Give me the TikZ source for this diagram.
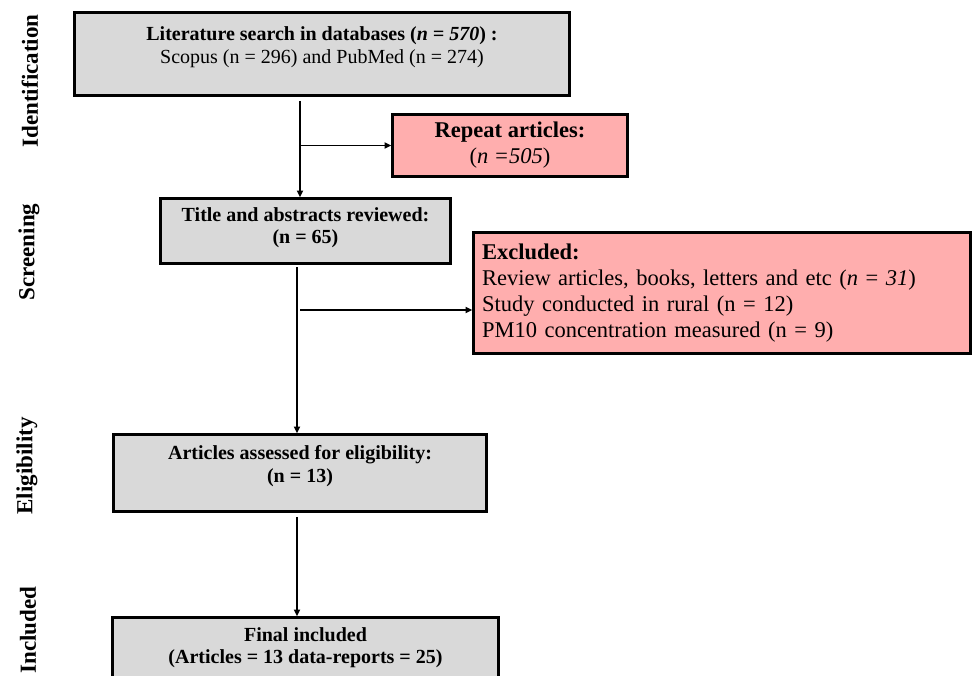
\documentclass[tikz,border=0pt]{standalone}
\usepackage{fontspec}
\setmainfont{Liberation Serif}
\usetikzlibrary{arrows.meta}

\definecolor{boxgray}{RGB}{217,217,217}
\definecolor{boxpink}{RGB}{255,174,174}

\begin{document}
\begin{tikzpicture}[x=1pt, y=-1pt,
    stage/.style={draw, line width=2.6pt, fill=boxgray, align=center, inner sep=0pt,
                  font=\fontsize{20}{22.5}\selectfont},
    cut/.style={stage, fill=boxpink},
    phase/.style={rotate=90, font=\fontsize{23}{24}\selectfont\bfseries},
    flow/.style={line width=1.6pt, -{Triangle[length=6.5pt, width=6pt]}}]
    \useasboundingbox (0,0) rectangle (973,676);

    % boxes
    \node[stage, minimum width=495pt, minimum height=83pt, text depth=18pt] (search) at (322,54)
        {\textbf{Literature search in databases (\textit{n = 570}) :}\\
         Scopus (n = 296) and PubMed (n = 274)};
    \node[cut, minimum width=235pt, minimum height=62pt, font=\fontsize{22.5}{26}\selectfont] (repeat) at (510,145.5)
        {\textbf{Repeat articles:}\\ (\textit{n =505})};
    \node[stage, minimum width=290pt, minimum height=65pt, text depth=11pt] (title) at (305.5,231)
        {\textbf{Title and abstracts reviewed:}\\ \textbf{(n = 65)}};
    \node[cut, minimum width=497pt, minimum height=121pt, text width=480pt, align=left,
          font=\fontsize{22.5}{26}\selectfont] (excl) at (722,293)
        {\textbf{Excluded:}\\
         Review articles, books, letters and etc (\textit{n} = \textit{31})\\
         Study conducted in rural (n = 12)\\
         PM10 concentration measured (n = 9)};
    \node[stage, minimum width=373pt, minimum height=77pt, text depth=18pt] (articles) at (300,473)
        {\textbf{Articles assessed for eligibility:}\\ \textbf{(n = 13)}};
    \node[stage, minimum width=386pt, minimum height=73pt, text depth=17pt] (final) at (305.5,654)
        {\textbf{Final included}\\ \textbf{(Articles = 13 data-reports = 25)}};

    % phases
    \node[phase] (ident) at (30,81) {Identification};
    \node[phase] (screen) at (29,252) {Screening};
    \node[phase] (elig) at (27,466) {Eligibility};
    \node[phase] (incl) at (28,630) {Included};

    % arrows
    \coordinate (t1) at (300,101);
    \coordinate (t2) at (297,267);
    \coordinate (b2) at (300,310);
    \draw[flow] (t1) -- (t1 |- title.north);
    \draw[flow] (t1 |- repeat.west) -- (repeat.west);
    \draw[flow] (t2) -- (t2 |- articles.north);
    \draw[flow] (b2) -- (b2 -| excl.west);
    \draw[flow, shorten <=4pt] (t2 |- articles.south) -- (t2 |- final.north);
\end{tikzpicture}
\end{document}
